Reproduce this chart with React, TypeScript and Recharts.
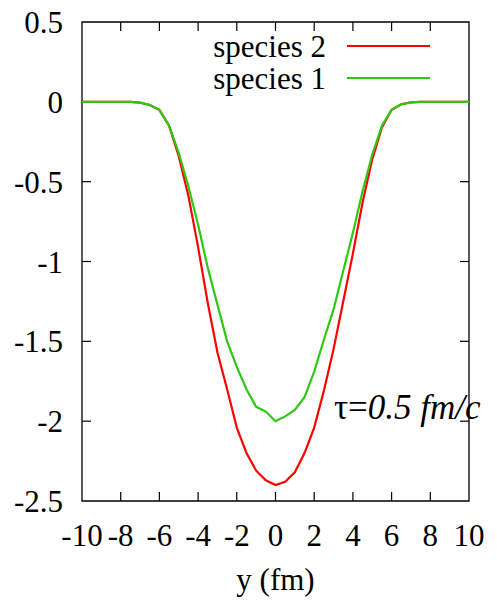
import { LineChart, Line, XAxis, YAxis, ReferenceArea, ReferenceLine, Legend, Label } from 'recharts';

const yPos = [-10, -9.5, -9, -8.5, -8, -7.5, -7, -6.5, -6, -5.5, -5, -4.5, -4, -3.5, -3, -2.5, -2, -1.5, -1, -0.5, 0, 0.5, 1, 1.5, 2, 2.5, 3, 3.5, 4, 4.5, 5, 5.5, 6, 6.5, 7, 7.5, 8, 8.5, 9, 9.5, 10];

const species1 = [0, 0, 0, 0, 0, 0, -0.005, -0.02, -0.05, -0.15, -0.32, -0.53, -0.77, -1.04, -1.27, -1.5, -1.66, -1.8, -1.91, -1.94, -2.0, -1.97, -1.93, -1.85, -1.69, -1.49, -1.3, -1.06, -0.82, -0.56, -0.33, -0.15, -0.05, -0.015, -0.003, 0, 0, 0, 0, 0, 0];

const species2 = [0, 0, 0, 0, 0, 0, -0.005, -0.02, -0.05, -0.15, -0.34, -0.59, -0.91, -1.26, -1.57, -1.8, -2.04, -2.2, -2.31, -2.37, -2.4, -2.38, -2.32, -2.2, -2.04, -1.81, -1.55, -1.25, -0.95, -0.63, -0.36, -0.16, -0.05, -0.015, -0.003, 0, 0, 0, 0, 0, 0];

const xTicks = [-10, -8, -6, -4, -2, 0, 2, 4, 6, 8, 10];
const yTicks = [0.5, 0, -0.5, -1, -1.5, -2, -2.5];

const seriesNames = ['species 2', 'species 1'];
const seriesColors = ['#ff0000', '#2ec814'];

const data = yPos.map((y, i) => ({ y, s1: species1[i], s2: species2[i] }));

const FONT = '"Liberation Serif", "Times New Roman", serif';
const W = 497;
const H = 602;

// inward tick length, in data units (approx 9px)
const xTickLen = 9 / 160;
const yTickLen = 9 / 19.35;

const renderLegend = () => (
  <svg width={280} height={84} style={{ display: 'block' }}>
    {seriesNames.map((name, i) => (
      <g key={name}>
        <text x={156} y={43 + i * 32} textAnchor="end" fontSize={31} fontFamily={FONT} fill="#000">
          {name}
        </text>
        <line x1={177} x2={260} y1={32 + i * 32} y2={32 + i * 32} stroke={seriesColors[i]} strokeWidth={2} />
      </g>
    ))}
  </svg>
);

const Annotation = () => (
  <text x={334} y={419} fontSize={35} fontFamily={FONT} fill="#000">
    τ=<tspan fontStyle="italic">0.5 fm/c</tspan>
  </text>
);

export default function App() {
  return (
    <div style={{ position: 'absolute', left: 0, top: 0, background: '#fff' }}>
      <LineChart width={W} height={H} data={data} margin={{ top: 22, right: 28, left: 0, bottom: 0 }}>
        <XAxis
          dataKey="y"
          type="number"
          domain={[-10, 10]}
          ticks={xTicks}
          axisLine={false}
          tickLine={false}
          tickSize={0}
          tickMargin={23}
          height={101}
          tick={{ fontSize: 31, fill: '#000', fontFamily: FONT }}
        >
          <Label value="y (fm)" position="insideBottom" offset={12} style={{ fontSize: 31, fill: '#000', fontFamily: FONT }} />
        </XAxis>
        <YAxis
          type="number"
          domain={[-2.5, 0.5]}
          ticks={yTicks}
          axisLine={false}
          tickLine={false}
          tickSize={0}
          tickMargin={19}
          width={82}
          tick={{ fontSize: 31, fill: '#000', fontFamily: FONT }}
        />
        <ReferenceArea x1={-10} x2={10} y1={-2.5} y2={0.5} fill="none" stroke="#000" strokeWidth={1.3} />
        {xTicks.slice(1, -1).map((t) => (
          <ReferenceLine key={'xb' + t} segment={[{ x: t, y: -2.5 }, { x: t, y: -2.5 + xTickLen }]} stroke="#000" strokeWidth={1.2} />
        ))}
        {xTicks.slice(1, -1).map((t) => (
          <ReferenceLine key={'xt' + t} segment={[{ x: t, y: 0.5 }, { x: t, y: 0.5 - xTickLen }]} stroke="#000" strokeWidth={1.2} />
        ))}
        {yTicks.slice(1, -1).map((t) => (
          <ReferenceLine key={'yl' + t} segment={[{ x: -10, y: t }, { x: -10 + yTickLen, y: t }]} stroke="#000" strokeWidth={1.2} />
        ))}
        {yTicks.slice(1, -1).map((t) => (
          <ReferenceLine key={'yr' + t} segment={[{ x: 10, y: t }, { x: 10 - yTickLen, y: t }]} stroke="#000" strokeWidth={1.2} />
        ))}
        <Line type="linear" dataKey="s2" name={seriesNames[0]} stroke={seriesColors[0]} strokeWidth={2.2} dot={false} isAnimationActive={false} />
        <Line type="linear" dataKey="s1" name={seriesNames[1]} stroke={seriesColors[1]} strokeWidth={2.2} dot={false} isAnimationActive={false} />
        <Legend
          content={renderLegend}
          layout="horizontal"
          verticalAlign="middle"
          align="center"
          wrapperStyle={{ position: 'absolute', left: 170, top: 14, width: 280, height: 84 }}
        />
        <Annotation />
      </LineChart>
    </div>
  );
}
